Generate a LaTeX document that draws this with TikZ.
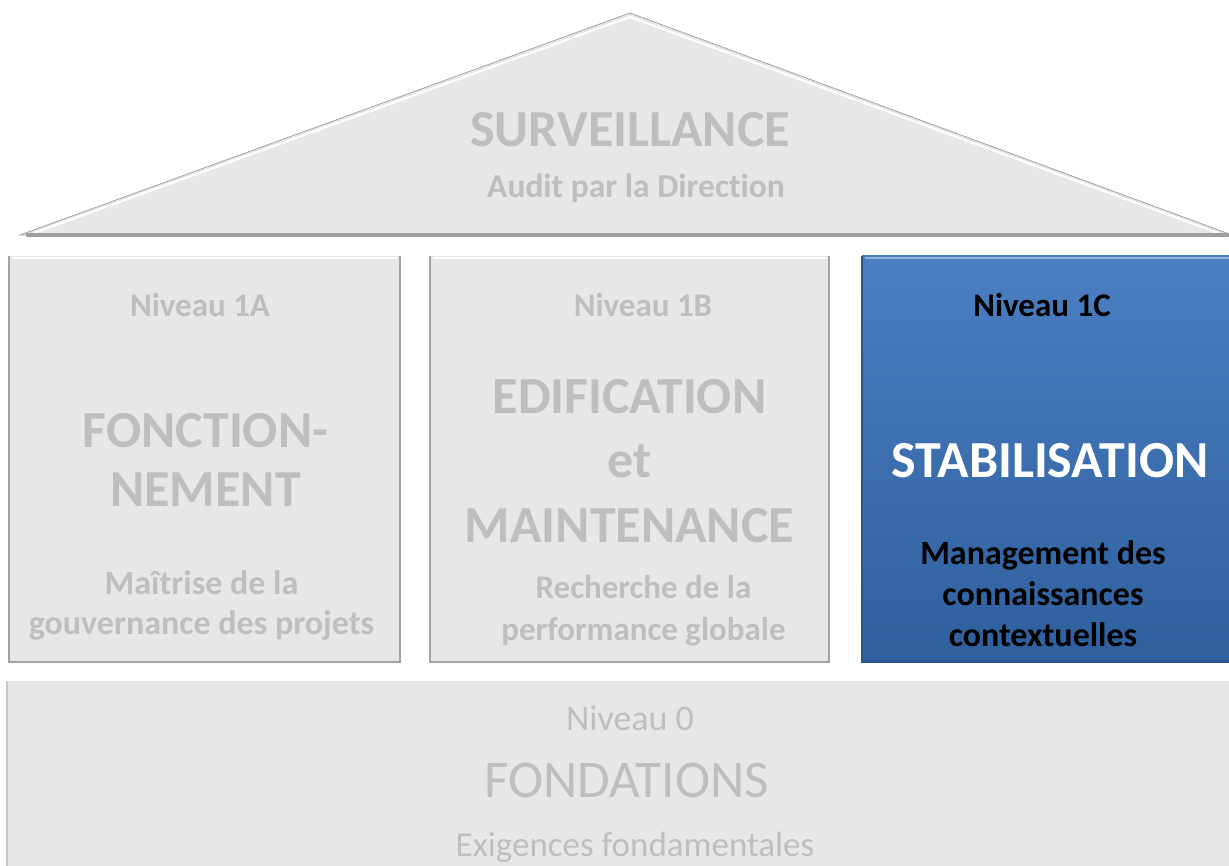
\documentclass[tikz,border=0pt]{standalone}
\usepackage{fontspec}
\setmainfont[Ligatures=NoCommon]{Carlito}
\usetikzlibrary{calc}

\definecolor{grisfond}{HTML}{E7E7E7}
\definecolor{gristexte}{HTML}{BEBEBE}
\definecolor{grisbord}{HTML}{A3A3A3}
\definecolor{bleuhaut}{HTML}{4A7FC2}
\definecolor{bleubas}{HTML}{2F5F9D}
\definecolor{bleubord}{HTML}{2B5488}

\tikzset{
  boite/.style={rectangle, fill=grisfond, inner sep=0pt, outer sep=0pt},
  boitebleue/.style={rectangle, top color=bleuhaut, bottom color=bleubas, inner sep=0pt, outer sep=0pt},
  ombre/.style={draw=grisbord, line width=2.5pt, line join=miter},
  reflet/.style={draw=white, line width=2pt, line join=miter},
  texte/.style={anchor=base, inner sep=0pt, align=center, text=gristexte},
  grand/.style={texte, font=\bfseries\fontsize{52}{59}\selectfont},
  moyen/.style={texte, font=\bfseries\fontsize{34}{40}\selectfont},
  niveau/.style={texte, font=\bfseries\fontsize{33}{40}\selectfont},
}

\begin{document}
\begin{tikzpicture}[x=1pt,y=-1pt]
    % Cadre de l'image
    \useasboundingbox (0,0) rectangle (1229,866);
    \fill[white] (0,0) rectangle (1229,866);

    % Le toit
    \coordinate (sommet) at (630,13);
    \coordinate (toitG) at (20,235);
    \coordinate (toitD) at (1232,235);
    \filldraw[fill=grisfond, draw=grisbord, line width=0.8pt] (toitG) -- (sommet) -- (toitD) -- cycle;
    \draw[reflet] ($(toitG)+(14,-2)$) -- ($(sommet)+(0,4)$) -- ($(toitD)+(-14,-2)$);
    \draw[line width=4pt, gray!75] ($(toitG)+(6,0)$) -- (toitD);

    % Les trois piliers et la fondation
    \node[boite, minimum width=391pt, minimum height=406pt] (n1a) at (204.5,459) {};
    \node[boite, minimum width=399pt, minimum height=406pt] (n1b) at (629.5,459) {};
    \node[boitebleue, minimum width=372pt, minimum height=406pt] (n1c) at (1048,459) {};
    \node[boite, minimum width=1226pt, minimum height=190pt] (n0) at (620,776) {};

    % Bords en relief
    \foreach \b in {n1a,n1b}{
      \draw[ombre] (\b.north west) -- (\b.south west) -- (\b.south east) -- (\b.north east);
      \draw[reflet] ($(\b.north west)+(3,2)$) -- ($(\b.north east)+(-3,2)$);
    }
    \draw[ombre, draw=bleubord] (n1c.north west) -- (n1c.south west) -- (n1c.south east);
    \draw[draw=bleuhaut!60!white, line width=2pt] ($(n1c.north west)+(3,2)$) -- ($(n1c.north east)+(0,2)$);
    \draw[draw=grisbord!60, line width=2pt] (n0.south west) -- (n0.north west);
    \draw[draw=gray!25, line width=1pt] (n0.north west) -- (n0.north east);

    % Textes du toit
    \node[grand] (surv) at ($(sommet)+(0,134)$) {SURVEILLANCE};
    \node[moyen, font=\bfseries\fontsize{33.5}{40}\selectfont] (audit) at ($(sommet)+(6,185)$) {Audit par la Direction};

    % Niveau 1A
    \node[niveau] (niv1a) at ($(n1a.north)+(-4.5,61)$) {Niveau 1A};
    \node[grand] (fonc) at ($(n1a.north)+(1,250)$) {FONCTION-\\NEMENT};
    \node[moyen, font=\bfseries\fontsize{34}{40}\selectfont] (maitrise) at ($(n1a.north)+(-3,378)$) {Maîtrise de la\\gouvernance des projets};

    % Niveau 1B
    \node[niveau] (niv1b) at ($(n1b.north)+(13.5,61)$) {Niveau 1B};
    \node[grand, font=\bfseries\fontsize{52}{64.5}\selectfont] (edif) at ($(n1b.north)+(0,286)$) {EDIFICATION\\et\\MAINTENANCE};
    \node[moyen, font=\bfseries\fontsize{33}{42}\selectfont] (perf) at ($(n1b.north)+(14,384)$) {Recherche de la\\performance globale};

    % Niveau 1C
    \node[niveau, text=black] (niv1c) at ($(n1c.north)+(-6,61)$) {Niveau 1C};
    \node[grand, text=white] (stab) at ($(n1c.north)+(2,221)$) {STABILISATION};
    \node[moyen, font=\bfseries\fontsize{34}{41}\selectfont, text=black] (mgmt) at ($(n1c.north)+(-5,390)$) {Management des\\connaissances\\contextuelles};

    % Niveau 0
    \node[texte, font=\fontsize{36}{40}\selectfont] (niv0) at ($(n0.north)+(10,49)$) {Niveau 0};
    \node[texte, font=\fontsize{53}{60}\selectfont] (fond) at ($(n0.north)+(6.5,116)$) {FONDATIONS};
    \node[texte, font=\fontsize{35}{40}\selectfont] (exig) at ($(n0.north)+(15,175)$) {Exigences fondamentales};
\end{tikzpicture}
\end{document}
